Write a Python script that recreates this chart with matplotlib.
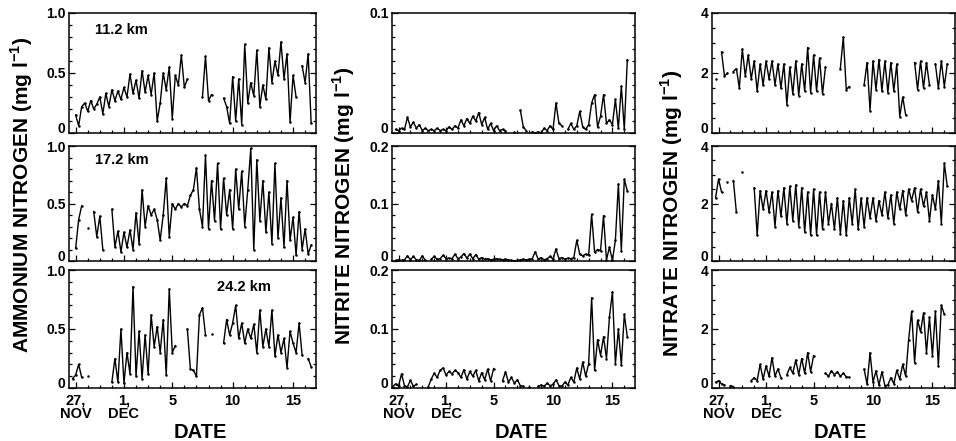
import numpy as np
import matplotlib as mpl
mpl.use("Agg")
import matplotlib.pyplot as plt
from matplotlib.ticker import MultipleLocator

mpl.rcParams.update({
    "font.family": ["Liberation Sans", "DejaVu Sans"],
    "font.weight": "bold",
    "mathtext.fontset": "custom",
    "mathtext.rm": "Liberation Sans:bold",
    "mathtext.bf": "Liberation Sans:bold",
    "axes.linewidth": 1.1,
})

nan = np.nan
# sampling grid: days after 27 Nov, every 6 h starting 26 Nov 12:00
T0, STEP = -0.5, 0.25

# ---- ammonium (mg/l) ----
nh4_112 = [nan, nan, 0.15, 0.06, 0.22, 0.25, 0.18, 0.27, 0.20, 0.24,
           0.30, 0.16, 0.33, 0.22, 0.36, 0.27, 0.35, 0.28, 0.38, 0.30,
           0.49, 0.33, 0.44, 0.29, 0.52, 0.34, 0.48, 0.32, 0.50, 0.10,
           0.25, 0.50, 0.36, 0.55, 0.12, 0.48, 0.40, 0.65, 0.38, 0.45,
           nan, nan, nan, nan, 0.30, 0.64, 0.27, 0.32, nan, nan,
           nan, 0.29, 0.22, 0.08, 0.47, 0.10, 0.45, 0.07, 0.74, 0.25,
           0.42, 0.31, 0.69, 0.22, 0.40, 0.28, 0.71, 0.42, 0.60, 0.48,
           0.76, 0.45, 0.66, 0.09, 0.48, 0.30, nan, 0.56, 0.42, 0.66,
           0.08, nan]
nh4_172 = [nan, nan, 0.11, 0.36, 0.48, nan, 0.29, nan, 0.43, 0.21,
           0.39, 0.10, nan, nan, 0.45, 0.12, 0.26, 0.08, 0.25, 0.12,
           0.27, 0.10, 0.42, 0.15, 0.62, 0.30, 0.48, 0.40, 0.45, 0.36,
           0.18, 0.40, 0.72, 0.21, 0.50, 0.45, 0.50, 0.47, 0.50, 0.48,
           0.57, 0.62, 0.81, 0.45, 0.30, 0.92, 0.28, 0.70, 0.35, 0.85,
           0.28, 0.72, 0.40, 0.62, 0.28, 0.80, 0.45, 0.78, 0.30, 0.62,
           0.98, 0.10, 0.88, 0.35, 0.70, 0.25, 0.60, 0.15, 0.85, 0.20,
           0.55, 0.12, 0.70, 0.18, 0.38, 0.05, 0.43, 0.10, 0.28, 0.06,
           0.14, nan]
nh4_242 = [nan, 0.08, 0.11, 0.20, 0.09, nan, 0.10, nan, nan, nan,
           nan, nan, nan, nan, 0.05, 0.25, 0.05, 0.50, 0.04, 0.30,
           0.12, 0.86, 0.10, 0.48, 0.08, 0.45, 0.12, 0.62, 0.35, 0.52,
           0.30, 0.58, 0.11, 0.84, 0.30, 0.36, nan, nan, nan, 0.50,
           0.16, 0.15, 0.10, 0.62, 0.68, 0.45, nan, 0.46, nan, nan,
           nan, 0.38, 0.58, 0.45, 0.55, 0.70, 0.42, 0.55, 0.38, 0.50,
           0.42, 0.54, 0.30, 0.66, 0.35, 0.50, 0.35, 0.66, 0.27, 0.45,
           0.30, 0.42, 0.17, 0.48, 0.38, 0.30, 0.55, 0.28, nan, 0.25,
           0.18, nan]

# ---- nitrite (mg/l) ----
no2_112 = [nan, 0.003, 0.002, 0.004, 0.003, 0.013, 0.005, 0.009, 0.004, 0.007,
           0.002, 0.004, 0.002, 0.003, 0.002, 0.004, 0.002, 0.003, 0.002, 0.005,
           0.003, 0.006, 0.004, 0.011, 0.006, 0.012, 0.008, 0.014, 0.010, 0.017,
           0.007, 0.013, 0.003, 0.008, 0.002, 0.006, 0.002, 0.003, 0.002, nan,
           nan, 0.001, nan, 0.019, 0.005, 0.002, nan, 0.001, 0.000, 0.001,
           0.000, 0.004, 0.002, 0.006, 0.003, 0.025, 0.008, 0.006, nan, 0.003,
           0.008, 0.003, 0.006, 0.018, 0.005, 0.003, 0.007, 0.025, 0.032, 0.005,
           0.014, 0.032, 0.008, 0.011, 0.007, 0.028, 0.004, 0.039, 0.003, 0.061,
           nan, nan]
no2_172 = [nan, 0.001, 0.002, 0.001, 0.002, 0.009, 0.002, 0.008, 0.002, 0.001,
           0.009, 0.001, nan, 0.003, 0.008, 0.003, 0.004, 0.010, 0.004, 0.005,
           0.004, 0.012, 0.004, 0.007, 0.013, 0.005, 0.012, 0.004, 0.011, 0.003,
           0.006, 0.003, 0.004, 0.002, 0.003, 0.004, 0.003, 0.002, 0.003, 0.002,
           0.001, 0.000, 0.001, 0.002, 0.003, 0.002, 0.003, 0.004, 0.016, 0.003,
           0.006, 0.002, 0.004, 0.008, 0.003, 0.021, 0.004, 0.006, 0.003, 0.005,
           0.004, 0.006, 0.036, 0.012, 0.009, 0.012, 0.010, 0.081, 0.015, 0.020,
           0.018, 0.079, 0.002, 0.024, 0.001, 0.036, 0.134, 0.018, 0.142, 0.122,
           nan, nan]
no2_242 = [0.002, 0.007, 0.003, 0.024, 0.004, 0.002, 0.013, 0.003, 0.006, nan,
           nan, nan, 0.002, 0.015, 0.025, 0.018, 0.030, 0.034, 0.022, 0.028,
           0.024, 0.030, 0.026, 0.018, 0.031, 0.015, 0.028, 0.020, 0.030, 0.012,
           0.026, 0.014, 0.032, 0.012, 0.033, nan, nan, 0.012, 0.027, 0.010,
           0.018, 0.008, 0.014, 0.004, 0.003, nan, 0.002, nan, nan, 0.003,
           0.005, 0.003, 0.008, 0.004, 0.006, 0.014, 0.004, 0.003, 0.010, 0.005,
           0.018, 0.010, 0.034, 0.015, 0.044, 0.020, 0.041, 0.153, 0.030, 0.082,
           0.055, 0.087, 0.050, 0.120, 0.163, 0.041, 0.100, 0.039, 0.125, 0.087,
           nan, nan]

# ---- nitrate (mg/l) ----
no3_112 = [nan, 1.80, nan, 2.70, 1.90, 2.00, nan, 2.05, 2.15, 1.50,
           2.80, 1.90, 2.60, 1.80, 2.40, 1.40, 2.30, 1.60, 2.40, 1.80,
           2.40, 1.60, 2.30, 1.50, 2.30, 0.95, 2.20, 1.30, 2.40, 1.25,
           2.30, 1.40, 2.85, 1.35, 2.60, 1.40, 2.50, 1.30, 2.20, nan,
           nan, nan, nan, 2.15, 3.20, 1.45, 1.55, nan, nan, nan,
           nan, 1.60, 2.35, 0.75, 2.40, 1.45, 2.45, 1.40, 2.40, 1.35,
           2.35, 1.40, 2.30, 0.55, 1.20, 0.60, nan, nan, 2.35, 1.45,
           2.40, 1.50, 2.35, 1.60, nan, 2.30, 1.50, 2.40, 1.55, 2.30,
           nan, nan]
no3_172 = [nan, 2.20, 2.85, 2.40, nan, 2.75, nan, 2.80, 1.70, nan,
           3.10, nan, nan, nan, 2.55, 0.90, 2.45, 1.80, 2.45, 1.70,
           2.40, 1.20, 2.45, 1.55, 2.55, 1.30, 2.60, 1.40, 2.65, 1.20,
           2.55, 1.00, 2.40, 0.90, 2.50, 0.90, 2.40, 1.10, 2.40, 1.30,
           2.00, 1.10, 2.20, 0.95, 2.10, 0.90, 2.20, 1.30, 2.50, 1.10,
           2.20, 1.20, 2.20, 1.50, 2.20, 1.40, 2.10, 1.60, 2.40, 1.50,
           2.30, 1.30, 2.40, 1.80, 2.45, 1.60, 2.50, 2.10, 2.55, 1.70,
           2.50, 1.90, 2.40, 1.40, 2.30, 1.80, 2.80, 1.30, 3.40, 2.60,
           nan, nan]
no3_242 = [nan, 0.19, 0.25, 0.14, 0.10, nan, 0.08, 0.05, nan, nan,
           nan, nan, nan, 0.25, 0.35, 0.25, 0.80, 0.30, 0.75, 0.40,
           1.03, 0.40, 0.65, 0.35, nan, 0.45, 0.70, 0.50, 0.95, 0.45,
           1.00, 0.50, 1.20, 0.55, 1.10, nan, nan, nan, 0.50, 0.40,
           0.58, 0.45, 0.55, 0.40, 0.50, 0.38, 0.36, nan, nan, nan,
           nan, 0.64, 0.13, 1.20, 0.20, 0.58, 0.10, 0.55, 0.08, 0.10,
           0.35, 0.15, 0.60, 0.30, 0.80, 0.40, 1.64, 2.60, 0.86, 2.30,
           1.90, 2.55, 1.20, 2.40, 1.10, 2.60, 0.75, 2.80, 2.50, nan,
           nan, nan]

stations = ["11.2 km", "17.2 km", "24.2 km"]
ylabels = ["AMMONIUM NITROGEN (mg l$^{-1}$)", "NITRITE NITROGEN (mg l$^{-1}$)",
           "NITRATE NITROGEN (mg l$^{-1}$)"]
xtick_pos = [0, 4, 8, 13, 18]
xtick_lab = ["27,\nNOV", "1,\nDEC", "5", "10", "15"]

series = [[nh4_112, nh4_172, nh4_242],
          [no2_112, no2_172, no2_242],
          [no3_112, no3_172, no3_242]]
ylims = [[1.0, 1.0, 1.0], [0.1, 0.2, 0.2], [4, 4, 4]]
ymajor = [[0.5] * 3, [0.1] * 3, [2] * 3]
yminor = [[0.1] * 3, [0.01, 0.02, 0.02], [0.5] * 3]

W, H = 956, 441
fig = plt.figure(figsize=(W / 100, H / 100), dpi=100)
col_x = [(69, 247), (392, 243), (712, 243)]
row_y = [(13, 133), (146, 261), (270, 388)]

for c in range(3):
    x0, w = col_x[c]
    for r in range(3):
        top, bot = row_y[r]
        ax = fig.add_axes([x0 / W, 1 - bot / H, w / W, (bot - top) / H])
        v = np.array(series[c][r], dtype=float)
        t = T0 + STEP * np.arange(len(v))
        ax.plot(t, v, color="k", lw=1.0, marker="o", ms=1.8, mew=0)
        ax.set_xlim(-0.55, 19.9)
        ax.set_ylim(0, ylims[c][r])
        ax.set_xticks(xtick_pos)
        ax.xaxis.set_minor_locator(MultipleLocator(1))
        ax.yaxis.set_major_locator(MultipleLocator(ymajor[c][r]))
        ax.yaxis.set_minor_locator(MultipleLocator(yminor[c][r]))
        yt = [y for y in ax.get_yticks() if 0 <= y <= ylims[c][r] + 1e-9]
        ax.set_yticks(yt)
        if c == 2:
            ax.set_yticklabels([f"{y:g}" for y in yt])
        else:
            ax.set_yticklabels(["0" if y == 0 else f"{y:.1f}" for y in yt])
        ax.tick_params(which="both", direction="in", right=True, width=0.9,
                       labelsize=10, pad=2.5)
        ax.tick_params(which="major", length=4)
        ax.tick_params(which="minor", length=2.5)
        ax.tick_params(axis="x", labelsize=10.5, pad=4)
        if r == 2:
            ax.set_xticklabels(xtick_lab, linespacing=0.95)
        else:
            ax.set_xticklabels([])
        ylabs = ax.get_yticklabels()
        ylabs[0].set_va("baseline")
        for lab in ax.get_xticklabels() + ylabs:
            lab.set_fontweight("bold")
        if c == 0:
            if r < 2:
                ax.text(0.105, 0.86 if r == 0 else 0.88, stations[r],
                        transform=ax.transAxes, fontsize=10.5,
                        fontweight="bold", va="center")
            else:
                ax.text(0.60, 0.86, stations[r], transform=ax.transAxes,
                        fontsize=10.5, fontweight="bold", va="center")

ylab_x = [22, 344, 672]
ylab_y = [195, 206, 213]
date_x = [200, 521, 840]
for c in range(3):
    fig.text(ylab_x[c] / W, 1 - ylab_y[c] / H, ylabels[c], rotation=90,
             ha="center", va="center", fontsize=15, fontweight="bold")
    fig.text(date_x[c] / W, 1 - 433 / H, "DATE", ha="center", va="center",
             fontsize=14.5, fontweight="bold")

fig.savefig("out.png", dpi=100)
